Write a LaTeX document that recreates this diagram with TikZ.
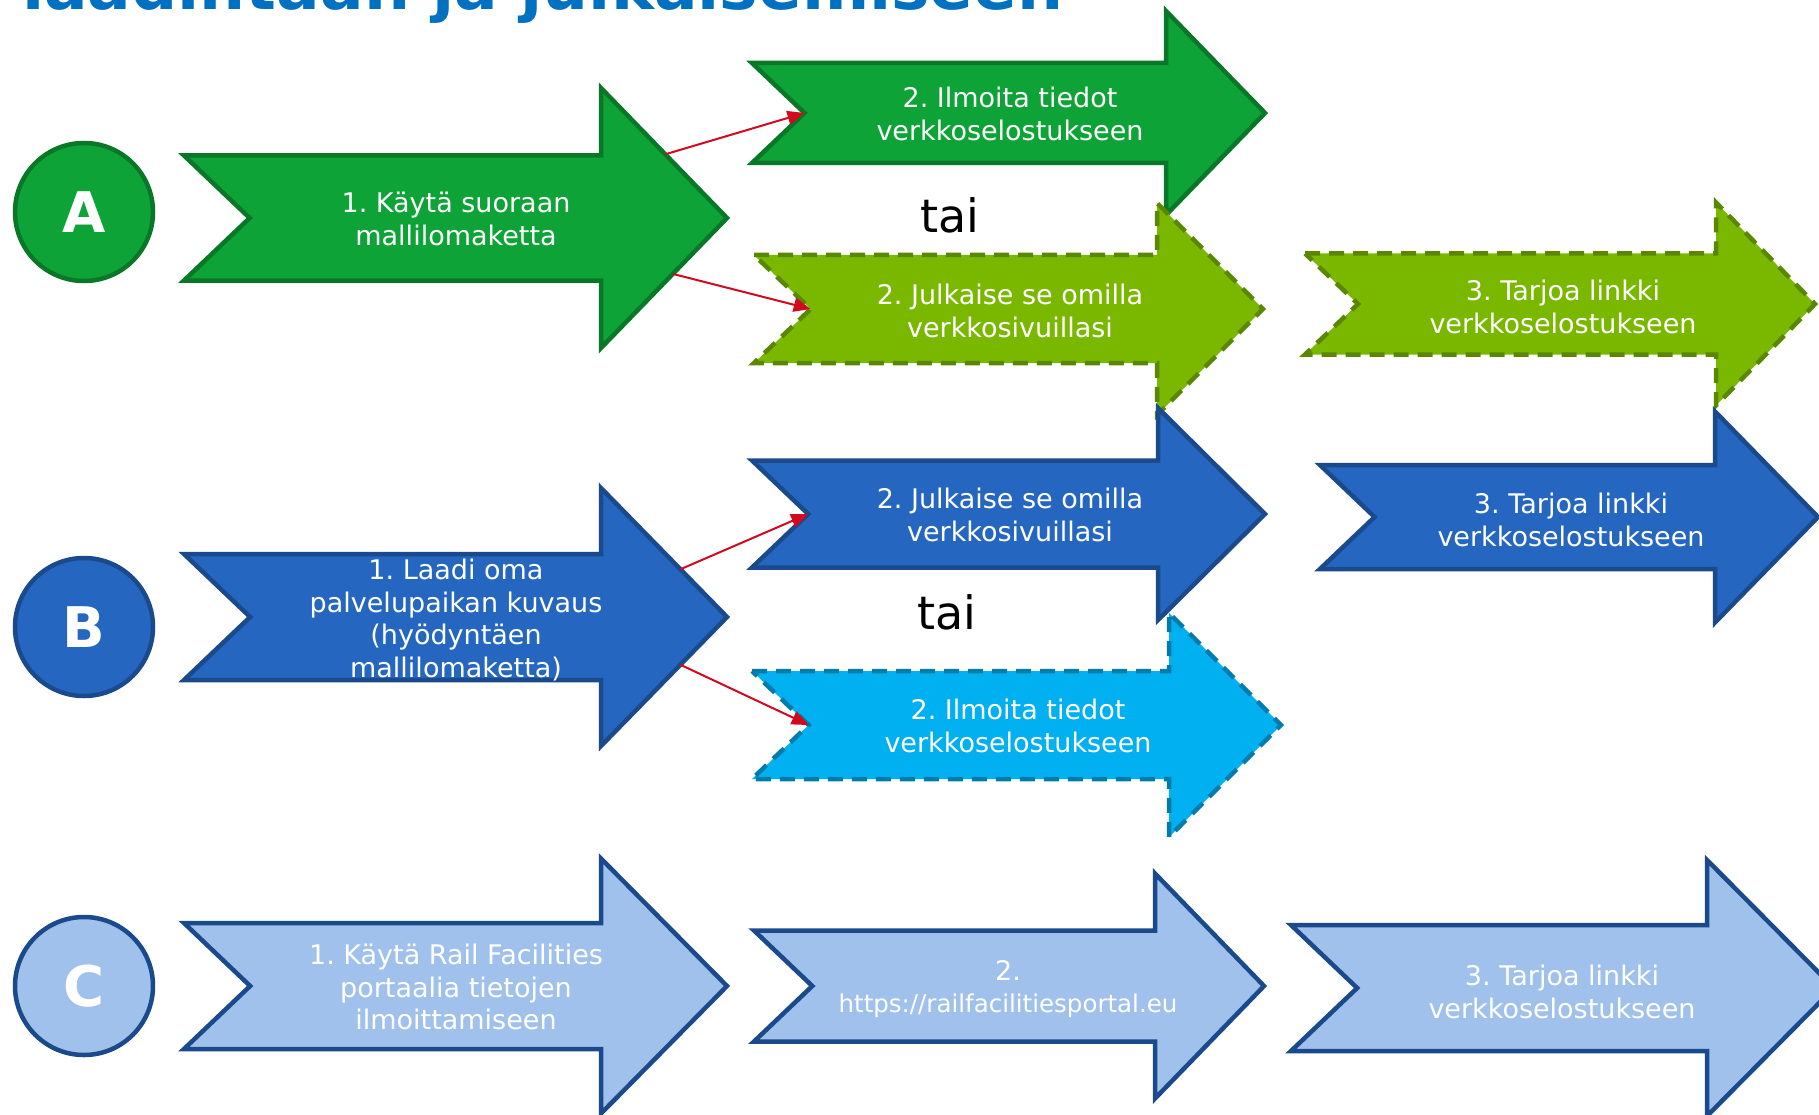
\documentclass[tikz,border=0pt]{standalone}
\usepackage{fontspec}
\setmainfont{DejaVu Sans}
\usetikzlibrary{arrows.meta,calc}
\frenchspacing
\definecolor{agreen}{RGB}{13,163,55}
\definecolor{agreenline}{RGB}{8,120,40}
\definecolor{limefill}{RGB}{122,184,0}
\definecolor{limeline}{RGB}{90,135,0}
\definecolor{bblue}{RGB}{37,103,192}
\definecolor{bblueline}{RGB}{27,74,140}
\definecolor{cyanfill}{RGB}{0,176,240}
\definecolor{cyanline}{RGB}{0,124,172}
\definecolor{cblue}{RGB}{160,193,236}
\definecolor{linkred}{RGB}{210,10,30}
\definecolor{titleblue}{RGB}{0,112,192}
\tikzset{
  every node/.append style={align=center},
  solidarrow/.style={line width=4.5pt, line join=miter},
  dasharrow/.style={line width=4.5pt, line join=miter, dash pattern=on 15pt off 9pt},
  steptext/.style={text=white, font=\fontsize{27}{32.4}\selectfont},
  badge/.style={circle, minimum size=138pt, inner sep=0pt, line width=4.5pt, text=white, font=\fontsize{56}{60}\selectfont\bfseries},
  taitext/.style={font=\fontsize{46}{50}\selectfont},
  link/.style={draw=linkred, line width=2pt, -{Triangle[length=17pt,width=14pt]}}
}
% notched arrow: tail x / head x / tip x / mid y / body half / head half
\newcommand{\flowarrow}[3]{%
  \foreach \tx/\hx/\px/\my/\bh/\hh in {#3}{%
    \draw[#1] (\tx,\my-\bh) -- (\hx,\my-\bh) -- (\hx,\my-\hh) -- (\px,\my)
      -- (\hx,\my+\hh) -- (\hx,\my+\bh) -- (\tx,\my+\bh) -- (\tx+1.05*\bh,\my) -- cycle;
    \coordinate (#2-notch) at (\tx+1.05*\bh,\my);
    \coordinate (#2-tip) at (\px,\my);
    \coordinate (#2-ht) at (\hx,\my-\hh);
    \coordinate (#2-hb) at (\hx,\my+\hh);
  }%
}

\begin{document}
\begin{tikzpicture}[x=1pt, y=-1pt]
    \useasboundingbox (0,0) rectangle (1819,1115);
    \clip (0,0) rectangle (1819,1115);

    % Title (cut off at the top)
    \node[anchor=base west, inner sep=0pt, text=titleblue, font=\fontsize{64.6}{70}\selectfont\bfseries] (title) at (22,10) {laadintaan ja julkaisemiseen};

    % Row A
    \node[badge, fill=agreen, draw=agreenline] (cA) at (84,212) {A};
    \flowarrow{solidarrow, fill=agreen, draw=agreenline}{A1}{184/601/727/218/62.5/130}
    \node[steptext] (A1) at (456,219) {1. Käytä suoraan\\mallilomaketta};
    \flowarrow{solidarrow, fill=agreen, draw=agreenline}{A2}{752/1166/1265/113/50/102}
    \node[steptext] (A2) at (1010,114) {2. Ilmoita tiedot\\verkkoselostukseen};
    \node[taitext] (taiA) at (950,215) {tai};
    \flowarrow{dasharrow, fill=limefill, draw=limeline}{A3}{754/1157/1263/309/54/106}
    \node[steptext] (A3) at (1010,311) {2. Julkaise se omilla\\verkkosivuillasi};
    \flowarrow{dasharrow, fill=limefill, draw=limeline}{A4}{1305/1716/1815/304/50.5/101.5}
    \node[steptext] (A4) at (1563,307) {3. Tarjoa linkki\\verkkoselostukseen};
    \draw[link] ($(A1-ht)!0.51!(A1-tip)$) -- (A2-notch);
    \draw[link] ($(A1-tip)!0.43!(A1-hb)$) -- (A3-notch);

    % Row B
    \node[badge, fill=bblue, draw=bblueline] (cB) at (84,627) {B};
    \flowarrow{solidarrow, fill=bblue, draw=bblueline}{B1}{184/601/727/617/63/129}
    \node[steptext] (B1) at (456,620) {1. Laadi oma\\palvelupaikan kuvaus\\(hyödyntäen\\mallilomaketta)};
    \flowarrow{solidarrow, fill=bblue, draw=bblueline}{B2}{752/1158/1265/514/53.5/106}
    \node[steptext] (B2) at (1010,515) {2. Julkaise se omilla\\verkkosivuillasi};
    \node[taitext] (taiB) at (947,612) {tai};
    \flowarrow{dasharrow, fill=cyanfill, draw=cyanline}{B3}{752/1169/1281/725/54/112}
    \node[steptext] (B3) at (1018,726) {2. Ilmoita tiedot\\verkkoselostukseen};
    \flowarrow{solidarrow, fill=bblue, draw=bblueline}{B4}{1320/1715/1818/517/52/105.5}
    \node[steptext] (B4) at (1571,520) {3. Tarjoa linkki\\verkkoselostukseen};
    \draw[link] ($(B1-ht)!0.63!(B1-tip)$) -- (B2-notch);
    \draw[link] ($(B1-tip)!0.37!(B1-hb)$) -- (B3-notch);

    % Row C
    \node[badge, fill=cblue, draw=bblueline] (cC) at (84,986) {C};
    \flowarrow{solidarrow, fill=cblue, draw=bblueline}{C1}{184/601/727/986/63/127.5}
    \node[steptext] (C1) at (456,987) {1. Käytä Rail Facilities\\portaalia tietojen\\ilmoittamiseen};
    \flowarrow{solidarrow, fill=cblue, draw=bblueline}{C2}{754/1155/1264/986/55.5/112.5}
    \node[steptext] (C2) at (1008,989) {2.\\{\fontsize{24.5}{29}\selectfont https://railfacilitiesportal.eu}};
    \flowarrow{solidarrow, fill=cblue, draw=bblueline}{C3}{1291/1707/1834/988/63/128}
    \node[steptext] (C3) at (1562,992) {3. Tarjoa linkki\\verkkoselostukseen};
\end{tikzpicture}
\end{document}
